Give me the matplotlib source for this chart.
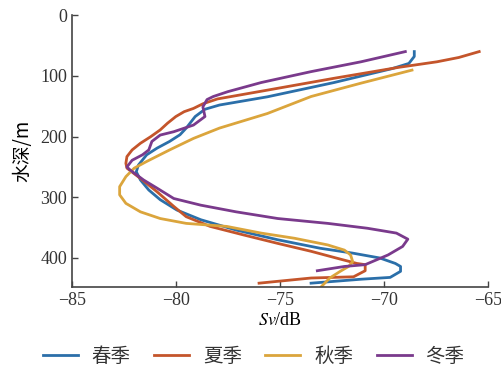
import matplotlib
matplotlib.use("Agg")
import matplotlib.pyplot as plt

# 声学后向散射强度 Sv (dB) 随水深 (m) 的季节剖面
spring_sv = [-68.54, -68.54, -68.8, -69.6, -72.4, -75.6, -77.9, -78.6, -79.07, -79.5, -79.8, -80.3,
             -80.9, -81.4, -81.8, -81.9, -81.7, -81.3, -80.75, -79.95, -78.8, -77.1, -75.1,
             -73.06, -71.5, -70.2, -69.45, -69.2, -69.2, -69.7, -71.1, -73.5]
spring_z = [60, 68, 79.5, 88, 111, 134.5, 148, 155, 167, 186, 197, 208,
            219, 230, 247, 258, 271.5, 288, 304, 321, 337, 354, 370,
            384, 392, 400, 409, 414, 422, 432, 435, 441.5]

summer_sv = [-65.42, -66.4, -67.45, -69.3, -72.4, -75.6, -78.0, -78.7, -79.15, -79.6, -80.0, -80.4,
             -80.75, -81.2, -81.7, -82.1, -82.35, -82.4, -82.35, -81.7, -80.9, -80.1, -79.5,
             -78.35, -76.75, -75.1, -73.5, -72.3, -71.3, -70.9, -70.9, -71.46, -73.5, -76.0]
summer_z = [60, 69.7, 76.8, 86, 104, 123.5, 138, 146, 153.6, 159, 167, 178,
            189, 200, 211, 222, 233, 244, 252, 269, 291, 315, 332,
            348, 362, 376, 389, 400, 409, 411, 421, 431, 433, 441.5]

autumn_sv = [-68.65, -71.1, -73.5, -75.6, -77.9, -79.15, -80.3, -81.4, -82.0, -82.4, -82.7, -82.7,
             -82.4, -81.7, -80.75, -79.5, -77.55, -75.9, -74.3, -72.7, -71.9, -71.6, -71.5,
             -71.7, -72.1, -72.6, -73.0]
autumn_z = [90.5, 112, 134, 162, 186, 203, 222, 241, 252, 266, 282.5, 296,
            310, 324, 335, 343, 348, 359, 367.5, 378.5, 387, 395, 406,
            414, 422, 433, 447]

winter_sv = [-68.97, -71.1, -73.5, -75.9, -77.5, -78.2, -78.5, -78.7, -78.6, -79.15, -80.1, -80.75,
             -81.15, -81.3, -81.6, -82.1, -82.35, -82.2, -81.55, -80.9, -80.1, -78.8, -77.1,
             -75.1, -72.7, -70.8, -69.4, -68.85, -69.1, -69.8, -70.9, -71.9, -73.2]
winter_z = [60, 76.8, 93, 111, 126, 134, 139, 151, 167, 181, 192, 197.5,
            208, 222, 230, 239, 250, 255, 271.5, 285, 302, 313, 324,
            335, 343, 351, 359, 369, 381, 395, 411, 414, 421]

labels = ["春季", "夏季", "秋季", "冬季"]
colors = ["#2b6fa9", "#c4552b", "#dba53c", "#7a3a8c"]

plt.rcParams['font.family'] = ['Liberation Serif', 'Noto Sans CJK SC']
plt.rcParams['mathtext.fontset'] = 'stix'
plt.rcParams['text.color'] = '#333333'

fig = plt.figure(figsize=(5.02, 3.70), dpi=100)
ax = fig.add_axes([0.143, 0.224, 0.829, 0.735])

series = [(spring_sv, spring_z), (summer_sv, summer_z), (autumn_sv, autumn_z), (winter_sv, winter_z)]
for (sv, z), lab, c in zip(series, labels, colors):
    ax.plot(sv, z, color=c, lw=2, label=lab)

ax.set_xlim(-85, -65)
ax.set_ylim(448, 0)
ax.set_xticks([-85, -80, -75, -70, -65])
ax.set_yticks([0, 100, 200, 300, 400])
ax.set_xticklabels(["\u221285", "\u221280", "\u221275", "\u221270", "\u221265"])
ax.tick_params(direction='in', labelsize=13, length=4, width=1, color='#444444',
               labelcolor='#333333')
for s in ['top', 'right']:
    ax.spines[s].set_visible(False)
for s in ['left', 'bottom']:
    ax.spines[s].set_color('#444444')
    ax.spines[s].set_linewidth(1.2)

ax.set_xlabel(r"$\mathit{Sv}$/dB", fontsize=13, labelpad=2)
ax.set_ylabel("水深/m", fontsize=13.5, family=['Noto Sans CJK SC', 'DejaVu Sans'],
              fontweight='light', labelpad=5)

fig.legend(*ax.get_legend_handles_labels(), loc='center', bbox_to_anchor=(0.505, 0.037),
           ncol=4, frameon=False, handlelength=1.8, columnspacing=1.2, handletextpad=0.72,
           prop={'family': ['Noto Sans CJK SC'], 'size': 14, 'weight': 'light'})

fig.savefig("out.png", dpi=100)
